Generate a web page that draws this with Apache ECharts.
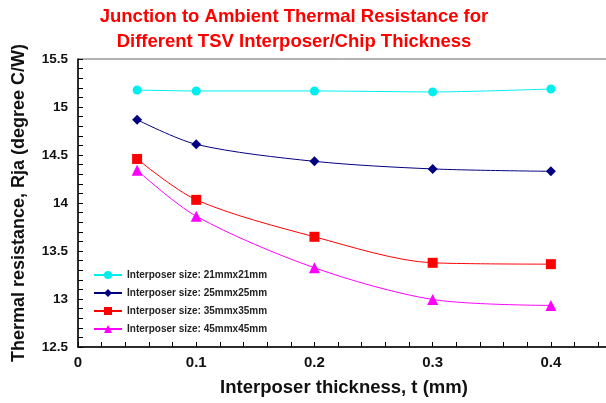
<!DOCTYPE html>
<html>
<head>
<meta charset="utf-8">
<script src="https://cdn.jsdelivr.net/npm/echarts@6/dist/echarts.min.js"></script>
<style>html,body{margin:0;padding:0;background:#fff}#c{width:606px;height:403px}</style>
</head>
<body>
<div id="c"></div>
<script>
var thickness = [0.05, 0.1, 0.2, 0.3, 0.4];
var size21 = [15.177, 15.167, 15.167, 15.157, 15.188];
var size25 = [14.868, 14.611, 14.434, 14.355, 14.33];
var size35 = [14.459, 14.033, 13.648, 13.377, 13.363];
var size45 = [14.341, 13.862, 13.325, 12.995, 12.933];
var seriesNames = ['Interposer size: 21mmx21mm','Interposer size: 25mmx25mm','Interposer size: 35mmx35mm','Interposer size: 45mmx45mm'];
var colors = ['#00EEEE','#000080','#FF0000','#FF00FF'];
var symbols = ['circle','diamond','rect','triangle'];
var symSizes = [9,10,10,11];
var allData = [size21,size25,size35,size45];

var chart = echarts.init(document.getElementById('c'));
var series = allData.map(function(vals,i){
  return {
    name: seriesNames[i], type:'line', smooth:0.3,
    data: thickness.map(function(t,j){return [t, vals[j]];}),
    symbol: symbols[i], symbolSize: symSizes[i],
    lineStyle:{color:colors[i], width:1},
    itemStyle:{color:colors[i]}
  };
});
chart.setOption({
  animation:false,
  title:{
    text:'Junction to Ambient Thermal Resistance for\nDifferent TSV Interposer/Chip Thickness',
    left:289, top:-1, textAlign:'center',
    textStyle:{color:'#FF0000', fontFamily:'Liberation Sans, Arial', fontWeight:'bold', fontSize:18.5, lineHeight:25}
  },
  grid:{left:78, top:59, width:532, height:288, show:true, borderColor:'#666', borderWidth:1, outerBoundsMode:'none', containLabel:false},
  legend:{
    orient:'vertical', left:88, top:265, itemWidth:28, itemHeight:10, itemGap:8,
    textStyle:{fontFamily:'Liberation Sans, Arial', fontWeight:'bold', fontSize:10, color:'#222'},
    data: seriesNames
  },
  xAxis:{
    type:'value', min:0, max:0.45, interval:0.1,
    name:'Interposer thickness, t (mm)', nameLocation:'middle', nameGap:31,
    nameTextStyle:{fontFamily:'Liberation Sans, Arial', fontWeight:'bold', fontSize:18.5, color:'#111'},
    axisLine:{show:true, lineStyle:{color:'#000', width:1.5}},
    axisTick:{show:true, inside:true, length:5, lineStyle:{color:'#000', width:1}},
    minorTick:{show:true, splitNumber:5, length:5, lineStyle:{color:'#000', width:1}},
    splitLine:{show:false},
    axisLabel:{margin:8, fontFamily:'Liberation Sans, Arial', fontWeight:'bold', fontSize:15, color:'#111',
      formatter:function(v){return v===0?'0':String(Math.round(v*10)/10);}, showMaxLabel:false}
  },
  yAxis:{
    type:'value', min:12.5, max:15.5, interval:0.5,
    name:'Thermal resistance, Rja (degree C/W)', nameLocation:'middle', nameGap:50,
    nameTextStyle:{fontFamily:'Liberation Sans, Arial', fontWeight:'bold', fontSize:18, color:'#111'},
    axisLine:{show:true, lineStyle:{color:'#000', width:1.5}},
    axisTick:{show:true, inside:true, length:5, lineStyle:{color:'#000', width:1}},
    minorTick:{show:true, splitNumber:5, length:5, lineStyle:{color:'#000', width:1}},
    splitLine:{show:false},
    axisLabel:{margin:10, fontFamily:'Liberation Sans, Arial', fontWeight:'bold', fontSize:13.5, color:'#111'}
  },
  series: series
});
</script>
</body>
</html>
